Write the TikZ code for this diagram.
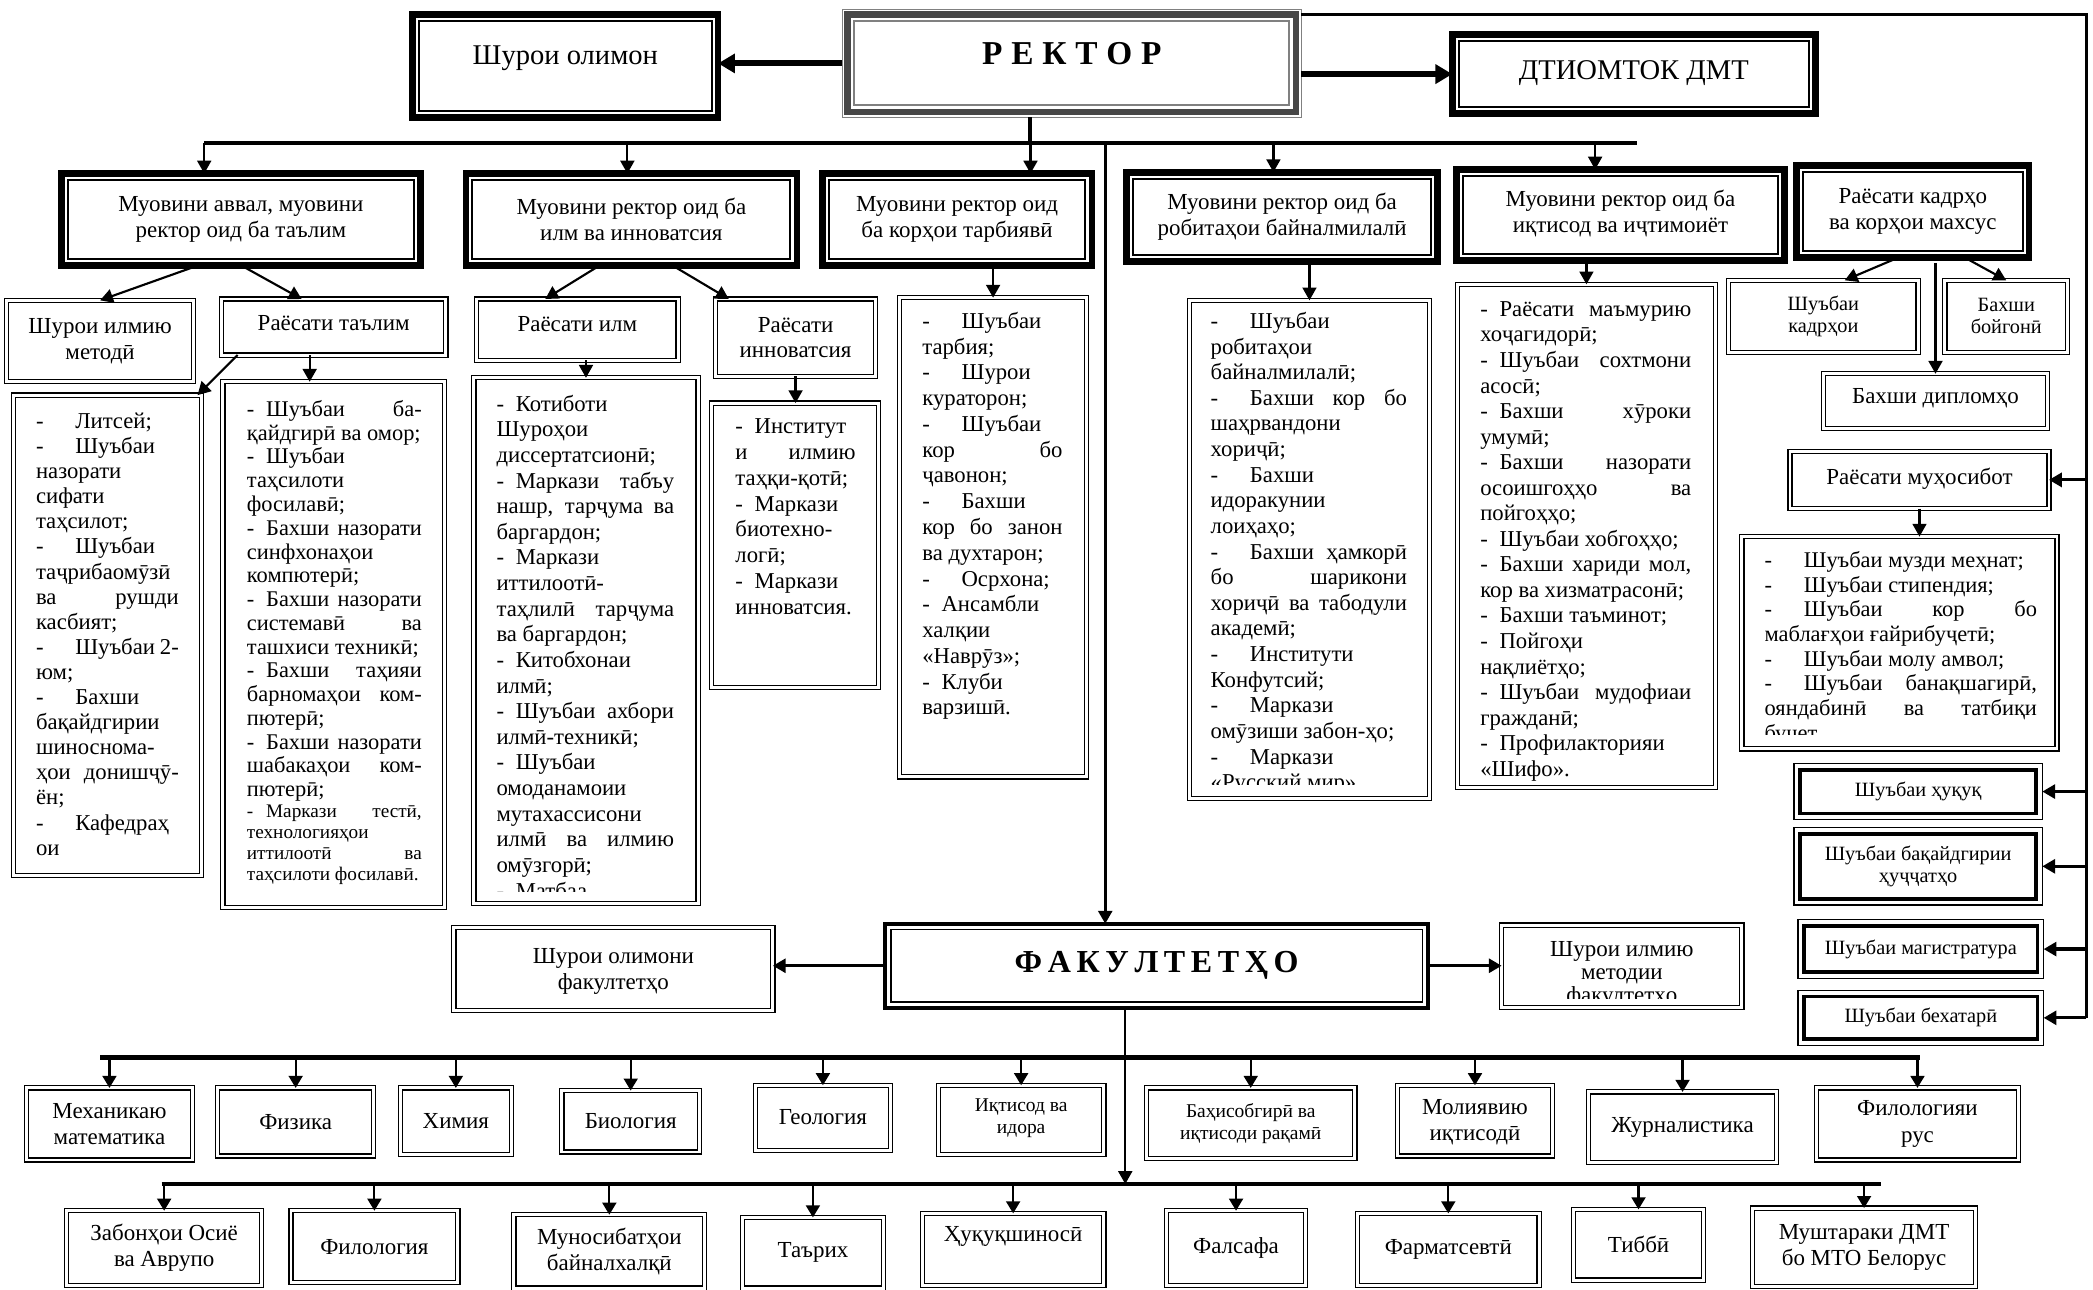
\documentclass[tikz,border=0pt]{standalone}
\usepackage{fontspec}
\setmainfont{Liberation Serif}
\usetikzlibrary{arrows.meta,calc}

\newcommand\lnJ[1]{\hbox to\hsize{\spaceskip=0.25em plus 1fil minus 0.08em\xspaceskip=0.3em plus 1fil minus 0.08em\relax #1}}
\newcommand\lnN[1]{\hbox to\hsize{#1\hfil}}
\newcommand\dsh{\makebox[14.7pt][l]{-}}
\newcommand\dss{\makebox[7.2pt][l]{-}}
\newcommand\myRsp{\hspace{3.3pt}}
\newcommand\myKsp{\hspace{2.1pt}}
\newcommand\inrect[2]{\draw[#1] ([shift={(#2,#2)}]path picture bounding box.south west) rectangle ([shift={(-#2,-#2)}]path picture bounding box.north east);}

\newcommand\Bx[6]{\node[#6, minimum width={(#4-#2)*0.5pt}, minimum height={(#5-#3)*0.5pt}] (#1) at ({(#2+#4)/2},{(#3+#5)/2}) {};}
\newcommand\B[9]{\Bx{#1}{#2}{#3}{#4}{#5}{#6}%
  \node[txt, #8] (#1t) at ({(#2+#4)/2},{(#3+#5)/2+#7}) {#9};}
\newcommand\LT[6]{\node[anchor=base west, inner sep=0pt, outer sep=0pt, #5] (#1) at (#2,#3) {\vtop{\hsize=#4\relax #6}};}

\tikzset{
 thk/.style={draw, line width=2.5pt, outer sep=0pt, inner sep=0pt, path picture={\inrect{line width=0.75pt}{2.4pt}}},
 fakb/.style={draw, line width=1.6pt, outer sep=0pt, inner sep=0pt, path picture={\inrect{line width=0.6pt}{2.2pt}}},
 inthk/.style={draw, line width=0.5pt, outer sep=0pt, inner sep=0pt, path picture={\inrect{line width=1.4pt}{2.3pt}}},
 dbl/.style={draw, double, double distance=1.1pt, line width=0.45pt, outer sep=0pt, inner sep=0pt},
 rectb/.style={draw=black!50, line width=0.5pt, outer sep=0pt, inner sep=0pt, path picture={\inrect{black!72,line width=2.5pt}{2.0pt}\inrect{line width=0.75pt}{4.5pt}}},
 txt/.style={inner sep=0pt, align=center},
 fTop/.style={font=\fontsize{10.7pt}{12.5pt}\selectfont},
 fM/.style={font=\fontsize{8.6pt}{9.6pt}\selectfont},
 fF/.style={font=\fontsize{8.6pt}{9.8pt}\selectfont},
 fS/.style={font=\fontsize{7.6pt}{8.3pt}\selectfont},
 fXS/.style={font=\fontsize{7.3pt}{8.2pt}\selectfont},
 fR/.style={font=\fontsize{12.5pt}{14pt}\selectfont\bfseries},
 fK/.style={font=\fontsize{12pt}{14pt}\selectfont\bfseries},
 lf/.style={font=\fontsize{8.5pt}{#1}\selectfont},
 lfb/.style={font=\fontsize{8.4pt}{#1}\selectfont},
 thkarr/.style={line width=2.2pt, -{Triangle[length=6.3pt,width=7pt]}},
 bus/.style={line width=1.5pt},
 darr/.style={line width=0.8pt, -{Triangle[length=4.8pt,width=5.2pt]}},
 rbus/.style={line width=1.3pt},
 rarr/.style={line width=1.2pt, -{Triangle[length=4.8pt,width=5.2pt]}},
 fbus/.style={line width=1.8pt},
 farr/.style={line width=0.8pt, -{Triangle[length=4.5pt,width=5.2pt]}},
}

\begin{document}
\begin{tikzpicture}[x=0.5pt,y=-0.5pt]
\useasboundingbox (0,0) rectangle (1568,966);

% ---------- top level ----------
\B{rector}{631}{7}{975}{88}{rectb}{-7}{fR}{Р\myRsp Е\myRsp К\myRsp Т\myRsp О\myRsp Р}
\B{sho}{309}{11}{538}{88}{thk}{-6}{fTop}{Шурои олимон}
\B{dt}{1088}{26}{1360}{85}{thk}{-1}{fTop}{ДТИОМТОК ДМТ}

% ---------- vice rectors ----------
\B{m1}{46}{130}{315}{199}{thk}{0}{fM}{Муовини аввал, муовини\\ректор оид ба таълим}
\B{m2}{349}{130}{597}{199}{thk}{0}{fM}{Муовини ректор оид ба\\илм ва инноватсия}
\B{m3}{616}{130}{818}{199}{thk}{0}{fM}{Муовини ректор оид\\ба корҳои тарбиявӣ}
\B{m4}{844}{129}{1077}{196}{thk}{0}{fM}{Муовини ректор оид ба\\робитаҳои байналмилалӣ}
\B{m5}{1091}{127}{1337}{195}{thk}{-1}{fM}{Муовини ректор оид ба\\иқтисод ва иҷтимоиёт}
\B{m6}{1346}{124}{1520}{193}{thk}{0}{fM}{Раёсати кадрҳо\\ва корҳои махсус}

% ---------- third level ----------
\B{smt}{5}{225}{145}{286}{dbl}{0}{fM}{Шурои илмию\\методӣ}
\B{rt}{166}{224}{334}{266}{dbl}{-3}{fM}{Раёсати таълим}
\B{ri}{357}{224}{508}{270}{dbl}{-4}{fM}{Раёсати илм}
\B{rin}{536}{224}{656}{282}{dbl}{0}{fM}{Раёсати\\инноватсия}

\Bx{l1}{10}{296}{151}{656}{dbl}
\Bx{l2}{167}{286}{333}{680}{dbl}
\Bx{l3}{355}{283}{523}{677}{dbl}
\Bx{l4}{533}{302}{658}{515}{dbl}
\Bx{l5}{674}{223}{814}{582}{dbl}
\Bx{l6}{891}{225}{1071}{598}{dbl}
\Bx{l7}{1092}{213}{1285}{590}{dbl}
\Bx{l8}{1305}{402}{1541}{561}{dbl}

\LT{l1t}{27}{321}{53.5pt}{lf=9.4pt}{%
\lnN{\dsh Литсей;}
\lnN{\dsh Шуъбаи}
\lnN{назорати}
\lnN{сифати}
\lnN{таҳсилот;}
\lnN{\dsh Шуъбаи}
\lnN{таҷрибаомӯзӣ}
\lnJ{ва рушди}
\lnN{касбият;}
\lnJ{\dsh Шуъбаи 2-}
\lnN{юм;}
\lnN{\dsh Бахши}
\lnN{бақайдгирии}
\lnN{шиноснома-}
\lnJ{ҳои донишҷӯ-}
\lnN{ён;}
\lnN{\dsh Кафедраҳ}
\lnN{ои}}

\LT{l2t}{185}{312}{65.5pt}{lfb=8.9pt}{%
\lnJ{\dss Шуъбаи ба-}
\lnN{қайдгирӣ ва омор;}
\lnN{\dss Шуъбаи}
\lnN{таҳсилоти}
\lnN{фосилавӣ;}
\lnJ{\dss Бахши назорати}
\lnN{синфхонаҳои}
\lnN{компютерӣ;}
\lnJ{\dss Бахши назорати}
\lnJ{системавӣ ва}
\lnN{ташхиси техникӣ;}
\lnJ{\dss Бахши таҳияи}
\lnJ{барномаҳои ком-}
\lnN{пютерӣ;}
\lnJ{\dss Бахши назорати}
\lnJ{шабакаҳои ком-}
\lnN{пютерӣ;}
{\fontsize{7.2pt}{7.9pt}\selectfont
\lnJ{\dss Маркази тестӣ,}
\lnN{технологияҳои}
\lnJ{иттилоотӣ ва}
\lnN{таҳсилоти фосилавӣ.}}}

\begin{scope}
\clip (356,284) rectangle (522,668);
\LT{l3t}{372}{308}{66.5pt}{lf=9.6pt}{%
\lnN{\dss Котиботи}
\lnN{Шуроҳои}
\lnN{диссертатсионӣ;}
\lnJ{\dss Маркази табъу}
\lnJ{нашр, тарҷума ва}
\lnN{баргардон;}
\lnN{\dss Маркази}
\lnN{иттилоотӣ-}
\lnJ{таҳлилӣ тарҷума}
\lnN{ва баргардон;}
\lnN{\dss Китобхонаи}
\lnN{илмӣ;}
\lnJ{\dss Шуъбаи ахбори}
\lnN{илмӣ-техникӣ;}
\lnN{\dss Шуъбаи}
\lnN{омоданамоии}
\lnN{мутахассисони}
\lnJ{илмӣ ва илмию}
\lnN{омӯзгорӣ;}
\lnN{\dss Матбаа}}
\end{scope}

\LT{l4t}{551}{325}{45pt}{lf=9.65pt}{%
\lnN{\dss Институт}
\lnJ{и илмию}
\lnN{таҳқи-қотӣ;}
\lnN{\dss Маркази}
\lnN{биотехно-}
\lnN{логӣ;}
\lnN{\dss Маркази}
\lnN{инноватсия.}}

\LT{l5t}{691}{246}{52.5pt}{lf=9.65pt}{%
\lnN{\dsh Шуъбаи}
\lnN{тарбия;}
\lnN{\dsh Шурои}
\lnN{кураторон;}
\lnN{\dsh Шуъбаи}
\lnJ{кор бо}
\lnN{ҷавонон;}
\lnN{\dsh Бахши}
\lnJ{кор бо занон}
\lnN{ва духтарон;}
\lnN{\dsh Осрхона;}
\lnN{\dss Ансамбли}
\lnN{халқии}
\lnN{«Наврӯз»;}
\lnN{\dss Клуби}
\lnN{варзишӣ.}}

\begin{scope}
\clip (892,226) rectangle (1070,588);
\LT{l6t}{907}{246}{73.5pt}{lf=9.6pt}{%
\lnN{\dsh Шуъбаи}
\lnN{робитаҳои}
\lnN{байналмилалӣ;}
\lnJ{\dsh Бахши кор бо}
\lnN{шаҳрвандони}
\lnN{хориҷӣ;}
\lnN{\dsh Бахши}
\lnN{идоракунии}
\lnN{лоиҳаҳо;}
\lnJ{\dsh Бахши ҳамкорӣ}
\lnJ{бо шарикони}
\lnJ{хориҷӣ ва табодули}
\lnN{академӣ;}
\lnN{\dsh Институти}
\lnN{Конфутсий;}
\lnN{\dsh Маркази}
\lnN{омӯзиши забон-ҳо;}
\lnN{\dsh Маркази}
\lnN{«Русский мир»}}
\end{scope}

\LT{l7t}{1109}{237}{79pt}{lf=9.57pt}{%
\lnJ{\dss Раёсати маъмурию}
\lnN{хоҷагидорӣ;}
\lnJ{\dss Шуъбаи сохтмони}
\lnN{асосӣ;}
\lnJ{\dss Бахши хӯроки}
\lnN{умумӣ;}
\lnJ{\dss Бахши назорати}
\lnJ{осоишгоҳҳо ва}
\lnN{пойгоҳҳо;}
\lnN{\dss Шуъбаи хобгоҳҳо;}
\lnJ{\dss Бахши хариди мол,}
\lnN{кор ва хизматрасонӣ;}
\lnN{\dss Бахши таъминот;}
\lnN{\dss Пойгоҳи}
\lnN{нақлиётҳо;}
\lnJ{\dss Шуъбаи мудофиаи}
\lnN{гражданӣ;}
\lnN{\dss Профилакторияи}
\lnN{«Шифо».}}

% ---------- right column ----------
\B{kad}{1295}{210}{1437}{264}{dbl}{0}{fS}{Шуъбаи\\кадрҳои}
\B{boy}{1457}{210}{1549}{264}{dbl}{0}{fS}{Бахши\\бойгонӣ}
\B{dip}{1366}{280}{1534}{321}{dbl}{-2}{fM}{Бахши дипломҳо}
\B{mhs}{1341}{338}{1535}{381}{dbl}{-1}{fM}{Раёсати муҳосибот}

\begin{scope}
\clip (1306,403) rectangle (1540,550);
\LT{l8t}{1322}{425}{102pt}{lfb=9.25pt}{%
\lnN{\dsh Шуъбаи музди меҳнат;}
\lnN{\dsh Шуъбаи стипендия;}
\lnJ{\dsh Шуъбаи кор бо}
\lnN{маблағҳои ғайрибуҷетӣ;}
\lnN{\dsh Шуъбаи молу амвол;}
\lnJ{\dsh Шуъбаи банақшагирӣ,}
\lnJ{ояндабинӣ ва татбиқи}
\lnN{буҷет}}
\end{scope}

\B{huq}{1344}{572}{1530}{614}{inthk}{0}{fS}{Шуъбаи ҳуқуқ}
\B{hujj}{1344}{620}{1530}{678}{inthk}{0}{fS}{Шуъбаи бақайдгирии\\ҳуҷҷатҳо}
\B{mag}{1347}{689}{1531}{733}{inthk}{0}{fS}{Шуъбаи магистратура}
\B{bex}{1347}{742}{1531}{783}{inthk}{0}{fS}{Шуъбаи бехатарӣ}

% ---------- faculties ----------
\B{fak}{663}{692}{1070}{755}{fakb}{0}{fK}{Ф\myKsp А\myKsp К\myKsp У\myKsp Л\myKsp Т\myKsp Е\myKsp Т\myKsp Ҳ\myKsp О}
\B{shof}{340}{695}{579}{757}{dbl}{2}{fM}{Шурои олимони\\факултетҳо}
\Bx{shmf}{1125}{693}{1305}{755}{dbl}
\begin{scope}
\clip (1127,695) rectangle (1303,748);
\node[txt, font=\fontsize{8.6pt}{8.6pt}\selectfont] (shmft) at (1215,730) {Шурои илмию\\методии\\факултетҳо};
\end{scope}

\B{f1}{20}{815}{144}{869}{dbl}{0}{fF}{Механикаю\\математика}
\B{f2}{163}{815}{280}{866}{dbl}{0}{fF}{Физика}
\B{f3}{300}{815}{383}{865}{dbl}{0}{fF}{Химия}
\B{f4}{421}{817}{524}{863}{dbl}{0}{fF}{Биология}
\B{f5}{566}{813}{667}{862}{dbl}{-1}{fF}{Геология}
\B{f6}{703}{813}{827}{865}{dbl}{-1}{fXS}{Иқтисод ва\\идора}
\B{f7}{859}{815}{1015}{868}{dbl}{0}{fXS}{Баҳисобгирӣ ва\\иқтисоди рақамӣ}
\B{f8}{1047}{813}{1163}{866}{dbl}{1}{fF}{Молиявию\\иқтисодӣ}
\B{f9}{1190}{818}{1331}{871}{dbl}{0}{fF}{Журналистика}
\B{f10}{1361}{815}{1512}{869}{dbl}{0}{fF}{Филологияи\\рус}

\B{g1}{50}{907}{196}{963}{dbl}{0}{fF}{Забонҳои Осиё\\ва Аврупо}
\B{g2}{218}{907}{343}{961}{dbl}{0}{fF}{Филология}
\B{g3}{385}{910}{528}{965}{dbl}{0}{fF}{Муносибатҳои\\байналхалқӣ}
\B{g4}{556}{912}{662}{965}{dbl}{0}{fF}{Таърих}
\B{g5}{691}{909}{827}{963}{dbl}{-10}{fF}{Ҳуқуқшиносӣ}
\B{g6}{874}{907}{978}{963}{dbl}{0}{fF}{Фалсафа}
\B{g7}{1017}{909}{1153}{963}{dbl}{0}{fF}{Фарматсевтӣ}
\B{g8}{1179}{906}{1276}{959}{dbl}{0}{fF}{Тиббӣ}
\B{g9}{1313}{905}{1480}{964}{dbl}{0}{fF}{Муштараки ДМТ\\бо МТО Белорус}

% ---------- connectors ----------
\draw[thkarr] (rector.west) -- (rector.west -| sho.east);
\draw[thkarr] (rector.east |- dt.west) -- (dt.west);

\coordinate (ra) at (1563,11);
\coordinate (rb) at (1563,763);
\draw[rbus] (rector.east |- ra) -- (ra) -- (rb);
\foreach \n in {mhs,huq,hujj,mag,bex} \draw[rarr] (ra |- \n.east) -- (\n.east);

\coordinate (tbL) at (153,107);
\coordinate (tbR) at (1226,107);
\coordinate (tbC) at (772,107);
\coordinate (tb2) at (470,107);
\coordinate (tb4) at (954,107);
\coordinate (tb5) at (1195,107);
\coordinate (tbF) at (828,107);
\draw[bus] (tbL) -- (tbR);
\draw[bus] (rector.south -| tbC) -- (tbC);
\draw[darr] (tbC) -- (tbC |- m3.north);
\draw[darr] (tbL) -- (tbL |- m1.north);
\draw[darr] (tb2) -- (tb2 |- m2.north);
\draw[darr] (tb4) -- (tb4 |- m4.north);
\draw[darr] (tb5) -- (tb5 |- m5.north);
\draw[darr, line width=1pt] (tbF) -- (tbF |- fak.north);

\draw[darr] ([xshift=-16.25pt]m1.south) -- (smt.north);
\draw[darr] ([xshift=0.25pt]m1.south) -- ([xshift=-12pt]rt.north);
\draw[darr] ([xshift=-12pt]m2.south) -- ([xshift=-12pt]ri.north);
\draw[darr] ([xshift=15.5pt]m2.south) -- ([xshift=-25pt]rin.north);
\draw[darr] (l5.north |- m3.south) -- (l5.north);
\draw[darr] ([xshift=6pt]rt.south west) -- ([xshift=-1.5pt]l1.north east);
\draw[darr] ([xshift=-9pt]rt.south) -- ([xshift=-9pt]rt.south |- l2.north);
\draw[darr] (l3.north |- ri.south) -- (l3.north);
\draw[darr] (rin.south) -- (rin.south |- l4.north);
\draw[darr] (l6.north |- m4.south) -- (l6.north);
\draw[darr] (l7.north |- m5.south) -- (l7.north);
\draw[darr] ([xshift=-5.5pt]m6.south) -- ([xshift=8pt]kad.north);
\draw[darr] ([xshift=19.5pt]m6.south) -- (boy.north);
\draw[darr] ([yshift=-2pt]m6.south -| dip.north) -- (dip.north);
\draw[darr] (mhs.south) -- (mhs.south |- l8.north);

\draw[rarr] (fak.west) -- (fak.west -| shof.east);
\draw[rarr] (fak.east) -- (fak.east -| shmf.west);

\coordinate (ubL) at (75,792);
\coordinate (ubR) at (1438,792);
\coordinate (lbL) at (121,887);
\coordinate (lbR) at (1409,887);
\draw[fbus] (ubL) -- (ubR);
\draw[fbus] (lbL) -- (lbR);
\draw[darr] ([xshift=-11.75pt]fak.south) -- ([xshift=-11.75pt]fak.south |- lbL);
\foreach \i in {1,...,10} \draw[farr] (f\i.north |- ubL) -- (f\i.north);
\foreach \i in {1,...,9} \draw[farr] (g\i.north |- lbL) -- (g\i.north);
\end{tikzpicture}
\end{document}
